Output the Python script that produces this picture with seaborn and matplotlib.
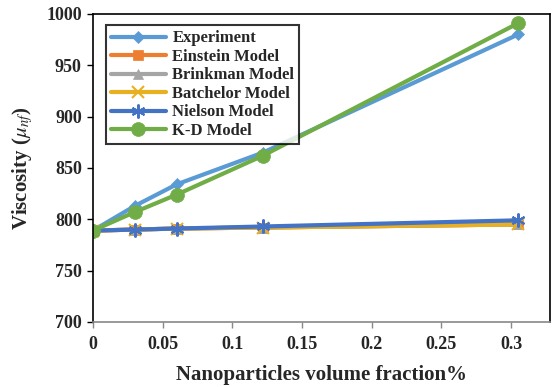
import matplotlib
matplotlib.use("Agg")
import matplotlib.pyplot as plt
import seaborn as sns
import pandas as pd

phi = [0.0, 0.03, 0.06, 0.122, 0.305]
experiment = [789, 813, 834, 865, 980]
einstein = [789, 790, 791, 792, 795]
brinkman = [789, 790, 791, 792, 795]
batchelor = [789, 790, 791, 792, 795]
nielson = [789, 790, 791, 793, 799]
kd_model = [789, 807, 824, 862, 991]

series_names = ["Experiment", "Einstein Model", "Brinkman Model",
                "Batchelor Model", "Nielson Model", "K-D Model"]
series_vals = [experiment, einstein, brinkman, batchelor, nielson, kd_model]

colors = ["#5B9BD5", "#ED7D31", "#A5A5A5", "#E8B020", "#4472C4", "#70AD47"]
markers = ["D", "s", "^", "x", (6, 2, 0), "o"]
msizes = [6, 7, 7, 8, 10, 10]

rows = []
for n, vals in zip(series_names, series_vals):
    for x, y in zip(phi, vals):
        rows.append({"phi": x, "visc": y, "series": n})
df = pd.DataFrame(rows)

sns.set_style("white")
plt.rcParams["font.family"] = ["Liberation Serif", "DejaVu Serif"]
plt.rcParams["mathtext.fontset"] = "stix"

fig = plt.figure(figsize=(5.53, 3.87), dpi=100)
ax = fig.add_axes([0.168, 0.168, 0.827, 0.796])

for n, c, m, ms in zip(series_names, colors, markers, msizes):
    sub = df[df["series"] == n]
    lw_m = 1.5 if m in ("x", (6, 2, 0)) else 0.5
    sns.lineplot(data=sub, x="phi", y="visc", ax=ax, color=c, marker=m,
                 markersize=ms, linewidth=3, label=n, markeredgecolor=c,
                 markeredgewidth=lw_m)

ax.set_xlim(0, 0.328)
ax.set_ylim(700, 1000)
ax.set_xticks([0, 0.05, 0.1, 0.15, 0.2, 0.25, 0.3])
ax.set_xticklabels(["0", "0.05", "0.1", "0.15", "0.2", "0.25", "0.3"])
ax.set_yticks(range(700, 1001, 50))
for lbl in ax.get_xticklabels() + ax.get_yticklabels():
    lbl.set_fontweight("bold")
    lbl.set_fontsize(13)

ax.set_xlabel("Nanoparticles volume fraction%", fontsize=15, fontweight="bold",
              labelpad=9)
ax.set_ylabel(r"Viscosity ($\mu_{nf}$)", fontsize=15, fontweight="bold",
              labelpad=8)

for s in ["left", "right", "top"]:
    ax.spines[s].set_color("black")
    ax.spines[s].set_linewidth(1.2)
ax.spines["bottom"].set_color("#888888")
ax.spines["bottom"].set_linewidth(1.2)
ax.tick_params(axis="y", direction="out", length=4, width=1, color="black",
               left=True, pad=4)
ax.tick_params(axis="x", direction="out", length=4, width=1, color="#888888",
               bottom=True, pad=6)

leg = ax.legend(loc="upper left", bbox_to_anchor=(0.01, 0.99), frameon=True,
                fancybox=False, edgecolor="black", handlelength=3.3,
                borderpad=0.3, labelspacing=0.15, handletextpad=0.4,
                prop={"family": "Liberation Serif", "weight": "bold", "size": 12})
leg.get_frame().set_linewidth(1.5)

fig.savefig("out.png", dpi=100)
